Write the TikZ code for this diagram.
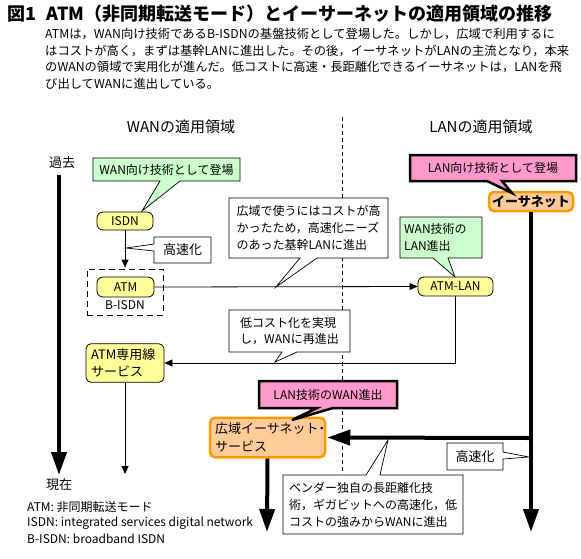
\documentclass[tikz,border=0pt]{standalone}
\usepackage{fontspec}
\setmainfont{Noto Sans CJK JP}
\usetikzlibrary{arrows.meta}
\definecolor{gfill}{HTML}{CCFFCC}
\definecolor{yfill}{HTML}{FFFF99}
\definecolor{pfill}{HTML}{FF99CC}
\definecolor{ofill}{HTML}{FFCC99}
\definecolor{oline}{HTML}{FF9900}
\newcommand\myfs[2]{\fontsize{#1pt}{#2pt}\selectfont}
\begin{document}
\begin{tikzpicture}[x=1pt,y=-1pt,
 pill/.style={draw, fill=yfill, rounded corners=6pt, line width=0.8pt, inner sep=0pt, font=\myfs{12}{15}},
 orbox/.style={draw=oline, fill=ofill, line width=2.5pt, rounded corners=5pt, inner sep=0pt},
 callout/.style={draw, fill=white, line width=0.7pt},
 gcall/.style={draw, fill=gfill, line width=0.7pt},
 pcall/.style={draw, fill=pfill, line width=2.5pt, line join=miter},
 ctext/.style={font=\myfs{12}{17}, align=left, inner sep=0pt},
 thin arrow/.style={line width=0.8pt, -{Triangle[width=7pt,length=8pt]}},
 thick arrow/.style={line width=4pt, -{Triangle[width=15pt,length=23pt]}},
 plain/.style={inner sep=0pt},
 desc/.style={inner sep=0pt, anchor=west, font=\myfs{12.3}{16}}
]
\useasboundingbox[fill=white] (0,0) rectangle (581,558);

% title and description
\node[plain, anchor=west, font=\myfs{18}{21}\bfseries] (title) at (7,14) {図1\hspace{0.6em}ATM（非同期転送モード）とイーサーネットの適用領域の推移};
\node[desc] (d1) at (45,34) {ATMは，WAN向け技術であるB-ISDNの基盤技術として登場した。しかし，広域で利用するに};
\node[desc] (d2) at (45,50.5) {はコストが高く，まずは基幹LANに進出した。その後，イーサネットがLANの主流となり，本来};
\node[desc] (d3) at (45,67) {のWANの領域で実用化が進んだ。低コストに高速・長距離化できるイーサネットは，LANを飛};
\node[desc] (d4) at (45,83.5) {び出してWANに進出している。};

% section headings
\node[plain, font=\myfs{15}{18}] (wanhead) at (181,127) {WANの適用領域};
\node[plain, font=\myfs{15}{18}] (lanhead) at (481,127) {LANの適用領域};

% divider
\coordinate (divT) at (342,117);
\coordinate (divB) at (342,474);
\draw[line width=0.8pt, dash pattern=on 4pt off 3pt] (divT) -- (divB);

% time axis
\node[plain, font=\myfs{13}{15}] (past) at (62,163) {過去};
\node[plain, font=\myfs{13}{15}] (now) at (59,485) {現在};
\coordinate (pastT) at (59,175);
\coordinate (pastB) at (59,475);
\draw[thick arrow] (pastT) -- (pastB);

% nodes
\node[pill, minimum width=56pt, minimum height=18pt] (isdn) at (125,221) {ISDN};
\node[draw, line width=0.8pt, dash pattern=on 6pt off 4pt, minimum width=76pt, minimum height=46pt, inner sep=0pt] (bbox) at (125,292) {};
\node[pill, minimum width=57pt, minimum height=20pt] (atm) at (125.5,287) {ATM};
\node[plain, font=\myfs{12}{15}] (bisdn) at (125,305) {B-ISDN};
\node[pill, minimum width=75pt, minimum height=19pt] (atmlan) at (455.5,286.5) {ATM-LAN};
\node[draw, fill=yfill, rounded corners=5pt, line width=0.8pt, minimum width=78pt, minimum height=38pt, text width=68pt, inner sep=5pt, align=left, font=\myfs{13}{17}] (atmsen) at (125,363) {ATM専用線\\サービス};
\node[orbox, minimum width=84pt, minimum height=19pt, font=\myfs{13}{15}\bfseries] (ether) at (531,201.5) {イーサネット};
\node[orbox, minimum width=115pt, minimum height=39pt, text width=105pt, inner sep=5pt, align=left, font=\myfs{13}{18}] (wes) at (267.5,437.5) {広域イーサネット\kern-0.25em・\\サービス};

% connectors
\draw[thin arrow, shorten >=1pt] (isdn.south) -- (bbox.north);
\draw[thin arrow] (atm.east) -- (atmlan.west);
\draw[thin arrow] (atmlan.south) |- (atmsen.east);
\coordinate (wanend) at (125,474);
\draw[thin arrow] (atmsen.south) -- (wanend);
\coordinate (lanend) at (531,532);
\draw[thick arrow] (ether.south) -- (lanend);
\coordinate (lanj) at (531,438);
\draw[thick arrow, shorten >=1pt] (lanj) -- (wes.east);
\coordinate (wesend) at (267,532);
\draw[thick arrow] (wes.south) -- (wesend);

% callouts
\path[gcall] (93,158) -- (240,158) -- (240,181) -- (180,181) -- (142,211) -- (160,181) -- (93,181) -- cycle;
\node[ctext] (c1) at (166.5,169.5) {WAN向け技術として登場};

\path[callout] (154,237) -- (211,237) -- (211,263) -- (154,263) -- (154,251) -- (126,248) -- (154,244) -- cycle;
\node[ctext, font=\myfs{13}{15}] (c2) at (182.5,250) {高速化};

\path[callout] (229,198) -- (388,198) -- (388,258) -- (317,258) -- (276,287) -- (300,258) -- (229,258) -- cycle;
\node[ctext] (c3) at (308.5,228) {広域で使うにはコストが高\\かったため，高速化ニーズ\\のあった基幹LANに進出};

\path[callout] (229,310) -- (350,310) -- (350,352) -- (297,352) -- (275,362) -- (282,352) -- (229,352) -- cycle;
\node[ctext, font=\myfs{12}{16}] (c4) at (289.5,331) {低コスト化を実現\\し，WANに再進出};

\path[gcall] (400,217) -- (482,217) -- (482,258) -- (448,258) -- (455,277) -- (433,258) -- (400,258) -- cycle;
\node[ctext, anchor=west] (c5) at (404,237.5) {WAN技術の\\LAN進出};

\path[pcall] (410,155) -- (576,155) -- (576,181) -- (502,181) -- (512,193) -- (487,181) -- (410,181) -- cycle;
\node[ctext] (c6) at (493,168) {LAN向け技術として登場};

\path[pcall] (259,381) -- (397,381) -- (397,408) -- (333,408) -- (292,420) -- (317,408) -- (259,408) -- cycle;
\node[ctext] (c7) at (328,394.5) {LAN技術のWAN進出};

\path[callout] (447,443) -- (503,443) -- (503,452) -- (529,457) -- (503,459) -- (503,470) -- (447,470) -- cycle;
\node[ctext, font=\myfs{13}{15}] (c8) at (475,456.5) {高速化};

\path[callout] (283,475) -- (366,475) -- (388,440) -- (380,475) -- (463,475) -- (463,534) -- (283,534) -- cycle;
\node[ctext] (c9) at (373,504.5) {ベンダー独自の長距離化技\\術，ギガビットへの高速化，低\\コストの強みからWANに進出};

% legend
\node[plain, anchor=west, font=\myfs{12}{15}] (l1) at (27,507) {ATM: 非同期転送モード};
\node[plain, anchor=west, font=\myfs{12}{15}] (l2) at (27,523) {ISDN: integrated services digital network};
\node[plain, anchor=west, font=\myfs{12}{15}] (l3) at (27,539) {B-ISDN: broadband ISDN};
\end{tikzpicture}
\end{document}
